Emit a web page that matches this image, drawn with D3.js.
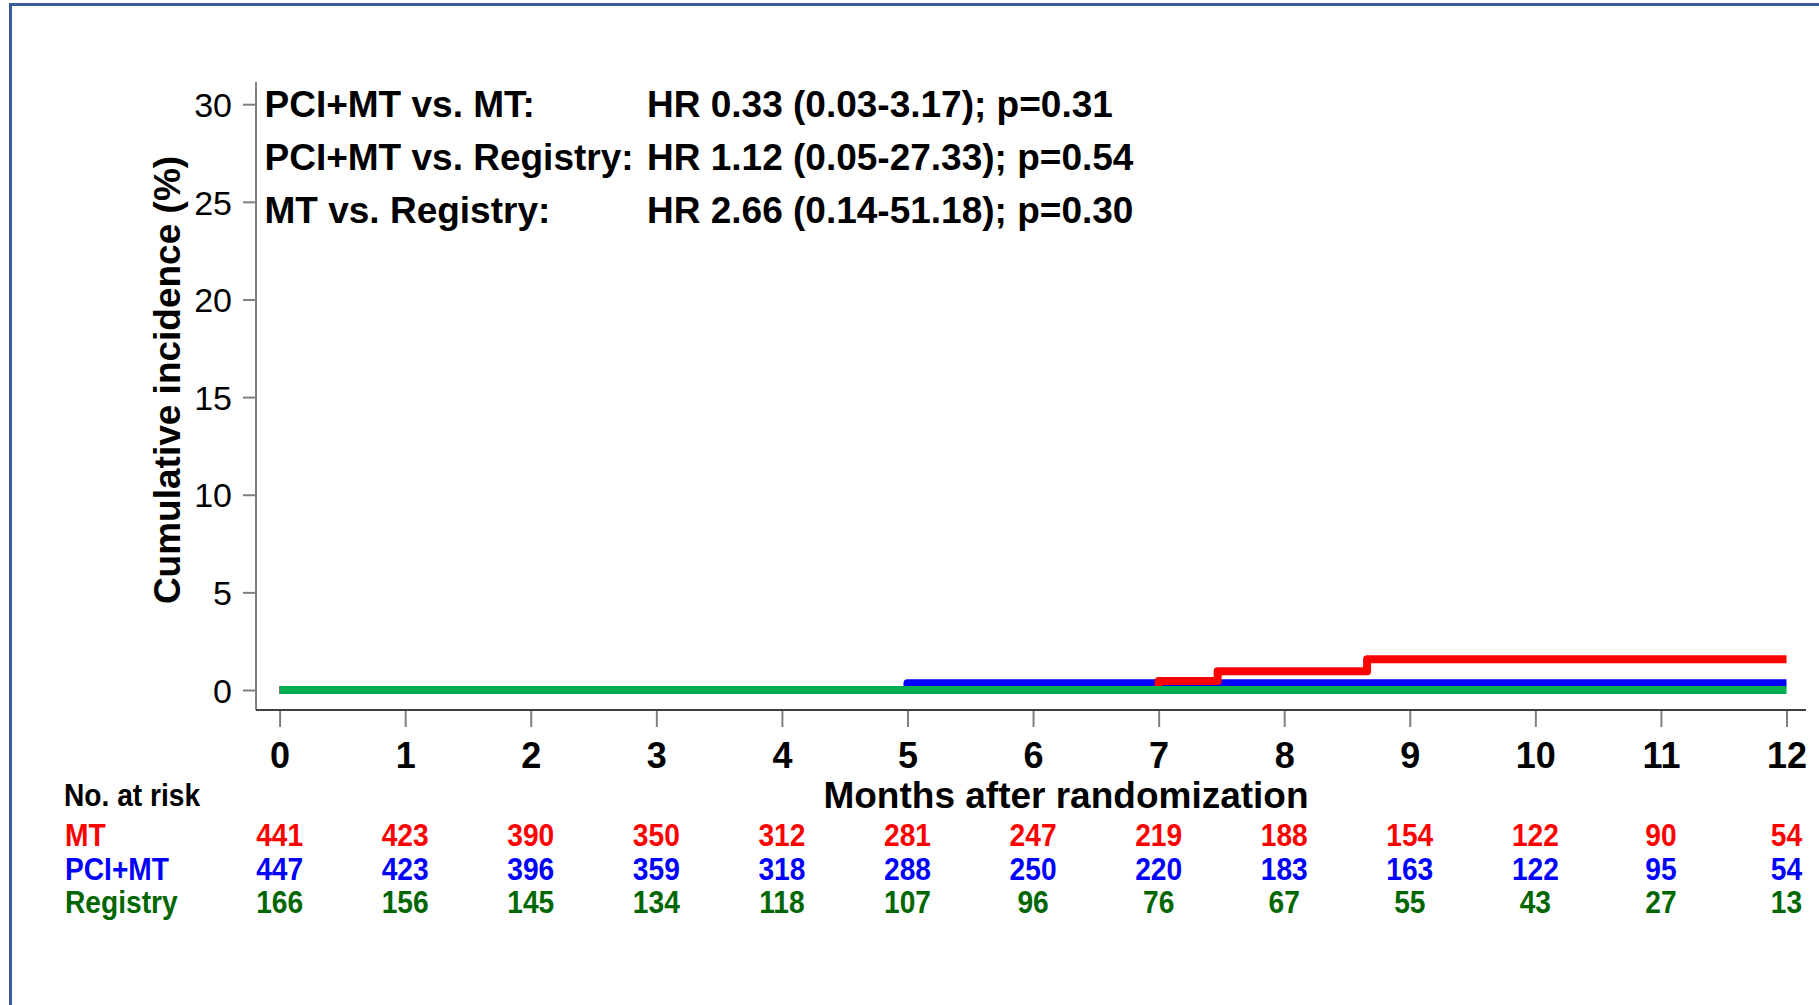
<!DOCTYPE html>
<html>
<head>
<meta charset="utf-8">
<script src="https://cdn.jsdelivr.net/npm/d3@7/dist/d3.min.js"></script>
<style>
  html, body { margin: 0; padding: 0; background: #fff; }
  svg { display: block; font-family: "Liberation Sans", Arial, Helvetica, sans-serif; }
</style>
</head>
<body>
<svg id="chart" width="1819" height="1005"></svg>
<script>
// Months after randomization (x ticks)
const months = [0, 1, 2, 3, 4, 5, 6, 7, 8, 9, 10, 11, 12];
const yTicks = [0, 5, 10, 15, 20, 25, 30];

// Cumulative incidence step curves (time in months, incidence in %)
const mtTimes = [0, 7.0, 7.47, 8.66, 12];
const mtInc = [0, 0.46, 0.96, 1.57, 1.57];
const pciTimes = [0, 5.0, 12];
const pciInc = [0, 0.35, 0.35];
const regTimes = [0, 12];
const regInc = [0, 0];

// Number at risk per month
const riskMT = [441, 423, 390, 350, 312, 281, 247, 219, 188, 154, 122, 90, 54];
const riskPCI = [447, 423, 396, 359, 318, 288, 250, 220, 183, 163, 122, 95, 54];
const riskReg = [166, 156, 145, 134, 118, 107, 96, 76, 67, 55, 43, 27, 13];

// Hazard ratio annotations
const hrLabels = ["PCI+MT vs. MT:", "PCI+MT vs. Registry:", "MT vs. Registry:"];
const hrValues = ["HR 0.33 (0.03-3.17); p=0.31", "HR 1.12 (0.05-27.33); p=0.54", "HR 2.66 (0.14-51.18); p=0.30"];

const groups = ["MT", "PCI+MT", "Registry"];

const svg = d3.select("#chart");

// Outer frame
svg.append("rect")
  .attr("x", 10.5).attr("y", 4.5)
  .attr("width", 1840).attr("height", 1040)
  .attr("fill", "none").attr("stroke", "#3a5c9c").attr("stroke-width", 3);

const x = d3.scaleLinear().domain([0, 12]).range([279.6, 1786.5]);
const y = d3.scaleLinear().domain([0, 30]).range([690, 104.2]);

const axisX0 = 256, axisY0 = 710;

// Y axis
const yAxis = svg.append("g")
  .attr("transform", `translate(${axisX0},0)`)
  .call(d3.axisLeft(y).tickValues(yTicks).tickSize(13).tickPadding(11));
yAxis.select(".domain").remove();
yAxis.selectAll(".tick line").attr("stroke", "#7f7f7f").attr("stroke-width", 2);
yAxis.selectAll(".tick text")
  .attr("font-size", 34).attr("fill", "#000")
  .attr("font-family", "Liberation Sans, Arial, sans-serif")
  .attr("dy", "0.36em");
svg.append("line")
  .attr("x1", axisX0).attr("x2", axisX0)
  .attr("y1", 82).attr("y2", axisY0)
  .attr("stroke", "#7f7f7f").attr("stroke-width", 2);

// X axis
const xAxis = svg.append("g")
  .attr("transform", `translate(0,${axisY0})`)
  .call(d3.axisBottom(x).tickValues(months).tickSize(17).tickPadding(15).tickFormat(d3.format("d")));
xAxis.select(".domain").remove();
xAxis.selectAll(".tick line").attr("stroke", "#7f7f7f").attr("stroke-width", 2);
xAxis.selectAll(".tick text")
  .attr("font-size", 36).attr("font-weight", "bold").attr("fill", "#000")
  .attr("font-family", "Liberation Sans, Arial, sans-serif");
svg.append("line")
  .attr("x1", axisX0).attr("x2", 1806)
  .attr("y1", axisY0).attr("y2", axisY0)
  .attr("stroke", "#404040").attr("stroke-width", 2);

// Axis titles
svg.append("text")
  .attr("transform", "translate(180,380) rotate(-90)")
  .attr("text-anchor", "middle")
  .attr("font-size", 37).attr("font-weight", "bold")
  .text("Cumulative incidence (%)");
svg.append("text")
  .attr("x", 1066).attr("y", 808)
  .attr("text-anchor", "middle")
  .attr("font-size", 37).attr("font-weight", "bold")
  .text("Months after randomization");

// Curves
const line = d3.line()
  .x(d => x(d[0]))
  .y(d => y(d[1]))
  .curve(d3.curveStepAfter);

const curves = [
  { times: pciTimes, inc: pciInc, color: "#0000ff" },
  { times: mtTimes, inc: mtInc, color: "#ff0000" },
  { times: regTimes, inc: regInc, color: "#00b050" }
];
curves.forEach(c => {
  svg.append("path")
    .datum(d3.zip(c.times, c.inc))
    .attr("d", line)
    .attr("fill", "none")
    .attr("stroke", c.color)
    .attr("stroke-width", 8)
    .attr("stroke-linejoin", "round")
    .attr("stroke-linecap", "butt");
});

// HR annotations
const hrY = [117, 170, 223];
hrLabels.forEach((t, i) => {
  svg.append("text").attr("x", 264.5).attr("y", hrY[i])
    .attr("font-size", 37).attr("font-weight", "bold").text(t);
  svg.append("text").attr("x", 647).attr("y", hrY[i])
    .attr("font-size", 37).attr("font-weight", "bold").text(hrValues[i]);
});

// Number-at-risk table (condensed bold text)
const riskFont = 32;
const squeeze = 0.88;
svg.append("text")
  .attr("transform", `translate(64,806) scale(${squeeze},1)`)
  .attr("font-size", riskFont).attr("font-weight", "bold").attr("fill", "#000")
  .text("No. at risk");

const rows = [
  { name: groups[0], vals: riskMT, color: "#ff0000", yb: 846 },
  { name: groups[1], vals: riskPCI, color: "#0000ff", yb: 879.5 },
  { name: groups[2], vals: riskReg, color: "#006600", yb: 913 }
];
rows.forEach(r => {
  svg.append("text")
    .attr("transform", `translate(65,${r.yb}) scale(${squeeze},1)`)
    .attr("font-size", riskFont).attr("font-weight", "bold").attr("fill", r.color)
    .text(r.name);
  svg.append("g").selectAll("text")
    .data(r.vals)
    .join("text")
    .attr("transform", (d, i) => `translate(${x(months[i])},${r.yb}) scale(${squeeze},1)`)
    .attr("text-anchor", "middle")
    .attr("font-size", riskFont).attr("font-weight", "bold").attr("fill", r.color)
    .text(d => d);
});
</script>
</body>
</html>
